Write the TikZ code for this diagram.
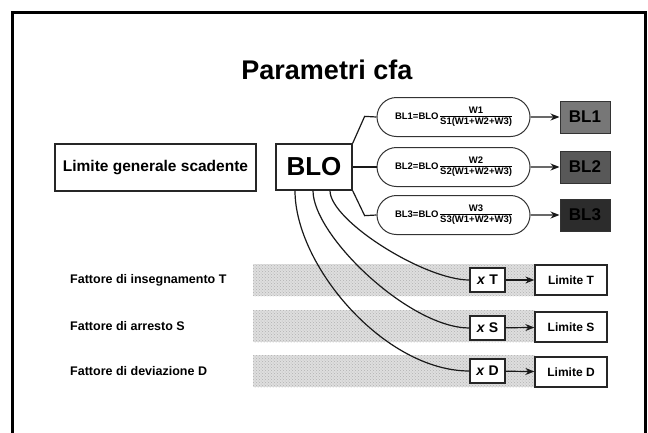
\documentclass[tikz,border=0pt]{standalone}
\usepackage{fontspec}
\setmainfont{Liberation Sans}
\usetikzlibrary{arrows.meta,shapes.misc,patterns}
\definecolor{blone}{HTML}{777777}
\definecolor{bltwo}{HTML}{585858}
\definecolor{blthree}{HTML}{2C2C2C}
% fraction W/S(...) used inside the capsules
\newcommand\wfrac[2]{{\renewcommand\arraystretch{0.85}\setlength\arrayrulewidth{0.8pt}%
  \begin{tabular}{@{}c@{}}#1\\\hline #2\end{tabular}}}
\begin{document}
\begin{tikzpicture}[x=1pt,y=-1pt,
  every node/.style={font=\bfseries, inner sep=0pt},
  frame/.style={line width=3pt},
  plainbox/.style={draw=black!85, line width=1.3pt, fill=white},
  capsule/.style={draw=black!80, line width=1pt, fill=white, rounded rectangle,
    minimum width=153pt, minimum height=39pt, font=\bfseries\fontsize{9.5}{10}\selectfont},
  blbox/.style={draw=black!80, line width=1pt, minimum width=50pt, minimum height=32pt,
    font=\bfseries\fontsize{17}{17}\selectfont},
  xbox/.style={plainbox, line width=1.1pt, minimum width=35pt, minimum height=24pt,
    font=\bfseries\fontsize{14}{14}\selectfont},
  limbox/.style={plainbox, minimum width=72pt, minimum height=30pt,
    font=\bfseries\fontsize{12}{12}\selectfont},
  factor/.style={anchor=west, font=\bfseries\fontsize{12.5}{12.5}\selectfont},
  conn/.style={line width=1.2pt, black!90},
  arr/.style={conn, -{Stealth[length=9pt,width=7pt]}},
  bandfill/.style={fill=black!13},
  banddots/.style={pattern=crosshatch dots, pattern color=black!30}
]
\useasboundingbox (0,0) rectangle (648,432);
\clip (0,0) rectangle (648,432);

% outer frame (open at the bottom edge of the page)
\draw[frame] (12,12) rectangle (645,470);

% title
\node[anchor=base, font=\bfseries\fontsize{27}{27}\selectfont] (title) at (327,79) {Parametri cfa};

% grey stippled bands behind the factor rows
\foreach \yc in {280,326,371}{
  \fill[bandfill] (253,\yc-16) rectangle (535,\yc+16);
  \fill[banddots] (253,\yc-16) rectangle (535,\yc+16);
}

% general limit and BLO
\node[plainbox, minimum width=201pt, minimum height=47pt,
  font=\bfseries\fontsize{15.5}{15.5}\selectfont] (lgs) at (155.5,167.5) {Limite generale scadente};
\node[plainbox, minimum width=76pt, minimum height=46pt,
  font=\bfseries\fontsize{26}{26}\selectfont] (blo) at (314,167) {BLO};

% capsules with the split formulas
\node[capsule] (c1) at (453.5,117) {BL1=BLO\,\wfrac{W1}{S1(W1+W2+W3)}};
\node[capsule] (c2) at (453.5,167) {BL2=BLO\,\wfrac{W2}{S2(W1+W2+W3)}};
\node[capsule] (c3) at (453.5,215) {BL3=BLO\,\wfrac{W3}{S3(W1+W2+W3)}};

% resulting limits
\node[blbox, fill=blone] (bl1) at (585,117) {BL1};
\node[blbox, fill=bltwo] (bl2) at (585,167) {BL2};
\node[blbox, fill=blthree] (bl3) at (585,215) {BL3};

\draw[conn] (blo.north east) -- ++(12,-27) -- (c1.west);
\draw[conn] (blo) -- (c2);
\draw[conn] (blo.south east) -- ++(12,25) -- (c3.west);

\draw[arr] (c1) -- (bl1);
\draw[arr] (c2) -- (bl2);
\draw[arr] (c3) -- (bl3);

% factor rows
\node[factor] (ft) at (70,280) {Fattore di insegnamento T};
\node[factor] (fs) at (70,326) {Fattore di arresto S};
\node[factor] (fd) at (70,371) {Fattore di deviazione D};

\node[xbox] (xt) at (487.5,280) {\textit{x} T};
\node[xbox] (xs) at (487.5,328) {\textit{x} S};
\node[xbox] (xd) at (487.5,371) {\textit{x} D};

\node[limbox] (lt) at (571,280) {Limite T};
\node[limbox] (ls) at (571,327) {Limite S};
\node[limbox] (ld) at (571,372) {Limite D};

\draw[conn] ([xshift=16pt]blo.south) .. controls +(0,30) and +(-45,0) .. (xt.west);
\draw[conn] ([xshift=-1pt]blo.south) .. controls +(0,45) and +(-60,0) .. (xs.west);
\draw[conn] ([xshift=-19pt]blo.south) .. controls +(0,75) and +(-85,0) .. (xd.west);

\draw[arr] (xt) -- (lt);
\draw[arr] (xs) -- (ls);
\draw[arr] (xd) -- (ld);
\end{tikzpicture}
\end{document}
